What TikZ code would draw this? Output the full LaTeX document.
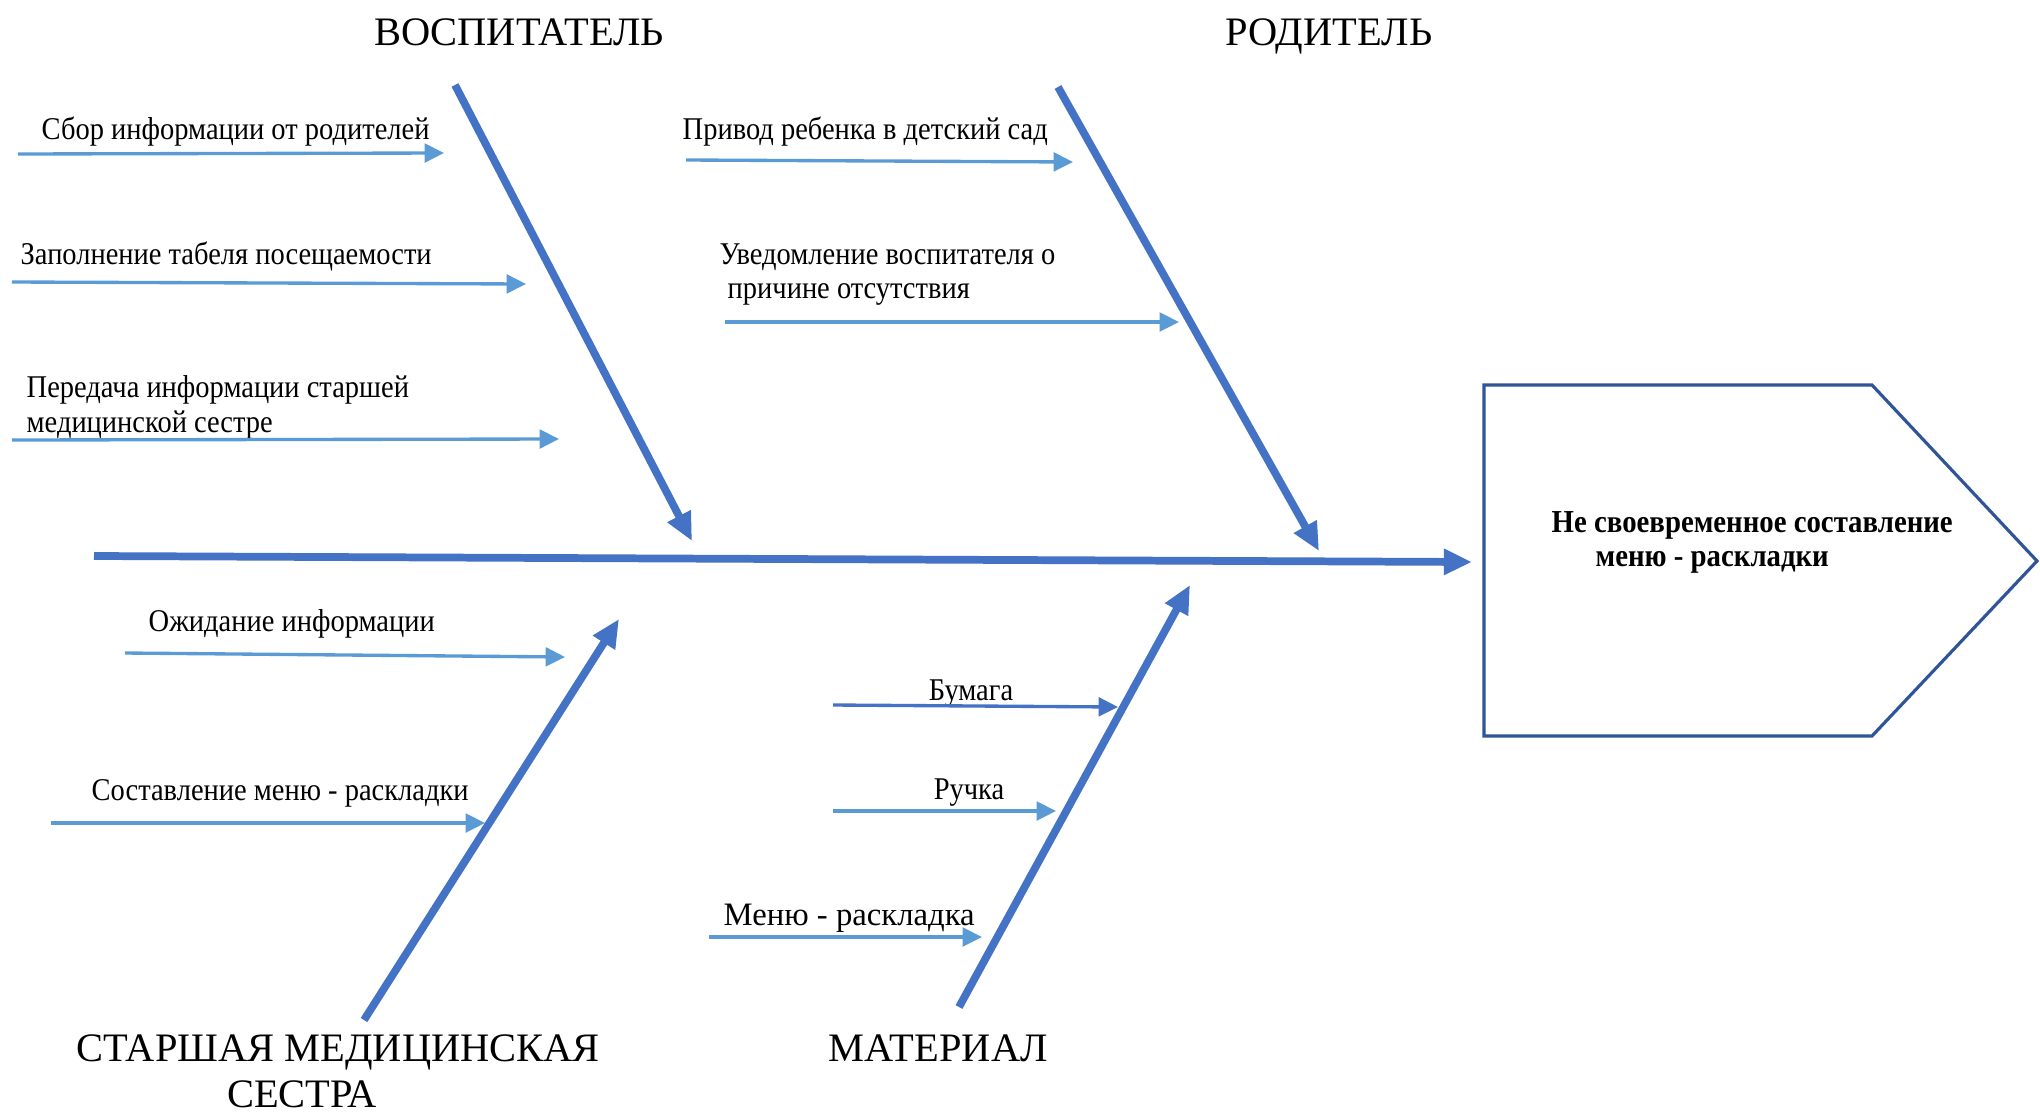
\documentclass[tikz,border=0pt]{standalone}
\usepackage{fontspec}
\setmainfont{Liberation Serif}
\newfontfamily\narrowserif{Liberation Serif}[FakeStretch=0.9]
\usetikzlibrary{arrows.meta}
\definecolor{bone}{HTML}{4472C4}
\definecolor{twig}{HTML}{5B9BD5}
\definecolor{boxc}{HTML}{2F5597}
\begin{document}
\begin{tikzpicture}[x=0.01cm,y=-0.01cm,
  bonearrow/.style={draw=bone, line width=2.2pt, -{Triangle[length=8pt,width=7pt]}},
  twigarrow/.style={draw=twig, line width=0.95pt, -{Triangle[length=5.5pt,width=5.3pt]}},
  cat/.style={font=\fontsize{11.5}{13}\selectfont, inner sep=0, anchor=base},
  lbl/.style={font=\narrowserif\fontsize{9}{10}\selectfont, inner sep=0, anchor=base west},
  efftext/.style={font=\narrowserif\bfseries\fontsize{9.1}{10}\selectfont, inner sep=0, anchor=base west},
  effect/.style={draw=boxc, line width=0.9pt, fill=white},
]
\useasboundingbox (0,0) rectangle (2040,1112);

% category labels
\node[cat] (catA) at (519,45) {ВОСПИТАТЕЛЬ};
\node[cat] (catB) at (1329,45) {РОДИТЕЛЬ};
\node[cat] (catC1) at (338,1061) {СТАРШАЯ МЕДИЦИНСКАЯ};
\node[cat] (catC2) at (302,1107) {СЕСТРА};
\node[cat] (catD) at (938,1061) {МАТЕРИАЛ};

% effect box
\draw[effect] (1484,385) coordinate (bx1) -- (1872,385) -- (2037,561) coordinate (btip) -- (1872,736) -- (1484,736) -- cycle;
\node[efftext] (eff1) at (1551,532) {Не своевременное составление};
\node[efftext] (eff2) at (1595,566) {меню - раскладки};

% spine
\coordinate (s0) at (94,556);
\coordinate (s1) at (1472,562);
\draw[bonearrow] (s0) -- (s1);

% main bones
\coordinate (a0) at (455,85);  \coordinate (a1) at (692,541);
\coordinate (b0) at (1058,87); \coordinate (b1) at (1319,551);
\coordinate (c0) at (364,1020); \coordinate (c1) at (619,619);
\coordinate (d0) at (959,1007); \coordinate (d1) at (1190,585);
\draw[bonearrow] (a0) -- (a1);
\draw[bonearrow] (b0) -- (b1);
\draw[bonearrow] (c0) -- (c1);
\draw[bonearrow] (d0) -- (d1);

% twig labels
\node[lbl] (t1) at (41,139) {Сбор информации от родителей};
\node[lbl] (t2) at (20,264) {Заполнение табеля посещаемости};
\node[lbl] (t3a) at (26,397) {Передача информации старшей};
\node[lbl] (t3b) at (26,432) {медицинской сестре};
\node[lbl] (t4) at (682,139) {Привод ребенка в детский сад};
\node[lbl] (t5a) at (719,264) {Уведомление воспитателя о};
\node[lbl] (t5b) at (727,298) {причине отсутствия};
\node[lbl] (t6) at (148,631) {Ожидание информации};
\node[lbl] (t7) at (91,800) {Составление меню - раскладки};
\node[lbl, anchor=base] (t8) at (971,700) {Бумага};
\node[lbl, anchor=base] (t9) at (969,799) {Ручка};
\node[lbl, font=\fontsize{9.3}{10}\selectfont] (t10) at (723,925) {Меню - раскладка};

% twigs
\coordinate (p1) at (18,154);  \coordinate (q1) at (444,153);
\coordinate (p2) at (12,282);  \coordinate (q2) at (526,284);
\coordinate (p3) at (12,440);  \coordinate (q3) at (559,439);
\coordinate (p4) at (686,160); \coordinate (q4) at (1073,162);
\coordinate (p5) at (725,322); \coordinate (q5) at (1179,322);
\coordinate (p6) at (125,653); \coordinate (q6) at (565,657);
\coordinate (p7) at (51,823);  \coordinate (q7) at (485,823);
\coordinate (p8) at (833,705); \coordinate (q8) at (1118,707);
\coordinate (p9) at (833,811); \coordinate (q9) at (1056,811);
\coordinate (p10) at (709,937); \coordinate (q10) at (982,937);
\draw[twigarrow] (p1) -- (q1);
\draw[twigarrow] (p2) -- (q2);
\draw[twigarrow] (p3) -- (q3);
\draw[twigarrow] (p4) -- (q4);
\draw[twigarrow] (p5) -- (q5);
\draw[twigarrow] (p6) -- (q6);
\draw[twigarrow] (p7) -- (q7);
\draw[twigarrow, draw=bone] (p8) -- (q8);
\draw[twigarrow] (p9) -- (q9);
\draw[twigarrow] (p10) -- (q10);
\end{tikzpicture}
\end{document}
